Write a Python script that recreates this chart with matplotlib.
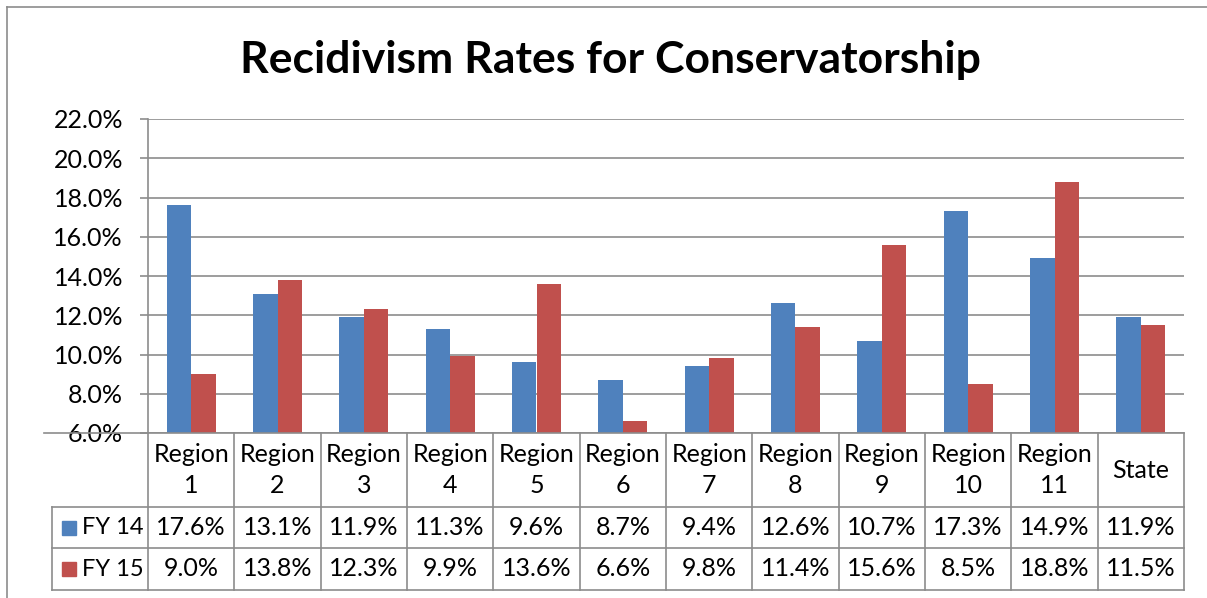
import numpy as np
import matplotlib.pyplot as plt
from matplotlib.patches import Rectangle

plt.rcParams['font.family'] = ['Lato', 'DejaVu Sans']

# data
categories = ['Region\n1', 'Region\n2', 'Region\n3', 'Region\n4', 'Region\n5', 'Region\n6',
              'Region\n7', 'Region\n8', 'Region\n9', 'Region\n10', 'Region\n11', 'State']
series_names = ['FY 14', 'FY 15']
fy14 = [17.6, 13.1, 11.9, 11.3, 9.6, 8.7, 9.4, 12.6, 10.7, 17.3, 14.9, 11.9]
fy15 = [9.0, 13.8, 12.3, 9.9, 13.6, 6.6, 9.8, 11.4, 15.6, 8.5, 18.8, 11.5]
colors = ['#4F81BD', '#C0504D']
yticks = [6, 8, 10, 12, 14, 16, 18, 20, 22]

W, H = 1207, 598
fig = plt.figure(figsize=(W / 100, H / 100), dpi=100)
grid_c = '#8c8c8c'
fs = 18

def fx(px):
    return px / W

def fy(py):
    return 1 - py / H

# outer chart frame
fig.add_artist(plt.Line2D([fx(7), fx(7)], [fy(7), 0], color=grid_c, lw=1.2))
fig.add_artist(plt.Line2D([fx(7), 1], [fy(7), fy(7)], color=grid_c, lw=1.2))

fig.text(fx(610), fy(60), 'Recidivism Rates for Conservatorship', ha='center', va='center',
         fontsize=32, fontweight='bold')

left, right, top, bottom = 148, 1184, 119, 433
ax = fig.add_axes([fx(left), fy(bottom), fx(right) - fx(left), fy(top) - fy(bottom)])
x = np.arange(len(categories))
bw = 0.284
ax.bar(x - bw / 2, fy14, bw, color=colors[0], zorder=3)
ax.bar(x + bw / 2, fy15, bw, color=colors[1], zorder=3)
ax.set_xlim(-0.5, len(categories) - 0.5)
ax.set_ylim(6, 22)
ax.set_yticks(yticks)
ax.set_yticklabels(['%.1f%%' % v for v in yticks], fontsize=fs)
ax.yaxis.grid(True, color=grid_c, lw=1.2, zorder=0)
ax.tick_params(axis='y', length=6, width=1.2, color=grid_c, pad=12)
ax.tick_params(axis='x', length=0, labelbottom=False)
for s in ['top', 'right']:
    ax.spines[s].set_visible(False)
for s in ['left', 'bottom']:
    ax.spines[s].set_color(grid_c)
    ax.spines[s].set_linewidth(1.2)
ax.spines['bottom'].set_visible(False)

# data table below the plot
tleft, tbottom = 52, 590
cw = (right - left) / len(categories)
x0 = -0.5 - (left - tleft) / cw
tab = fig.add_axes([fx(tleft), fy(tbottom), fx(right) - fx(tleft), fy(bottom) - fy(tbottom)])
tab.set_xlim(x0, len(categories) - 0.5)
tab.set_ylim(tbottom, bottom)
tab.axis('off')
row_y = [bottom, 507, 548, 590]
lkw = dict(color=grid_c, lw=1.2, clip_on=False)
tab.plot([x0 - 0.09, len(categories) - 0.5], [bottom, bottom], **lkw)
for b in np.arange(len(categories) + 1) - 0.5:
    tab.plot([b, b], [bottom, tbottom], **lkw)
tab.plot([x0, x0], [row_y[1], tbottom], **lkw)
for yy in row_y[1:]:
    tab.plot([x0, len(categories) - 0.5], [yy, yy], **lkw)
for i, c in enumerate(categories):
    tab.text(i, (row_y[0] + row_y[1]) / 2, c, ha='center', va='center', fontsize=fs,
             linespacing=1.4)
for r, (name, vals) in enumerate(zip(series_names, [fy14, fy15])):
    yc = (row_y[r + 1] + row_y[r + 2]) / 2
    for i, v in enumerate(vals):
        tab.text(i, yc, '%.1f%%' % v, ha='center', va='center', fontsize=fs)
    tab.add_patch(Rectangle((x0 + 10 / cw, yc - 7), 14 / cw, 14, color=colors[r], clip_on=False))
    tab.text(x0 + 30 / cw, yc, name, ha='left', va='center', fontsize=17)

fig.savefig('out.png', dpi=100)
